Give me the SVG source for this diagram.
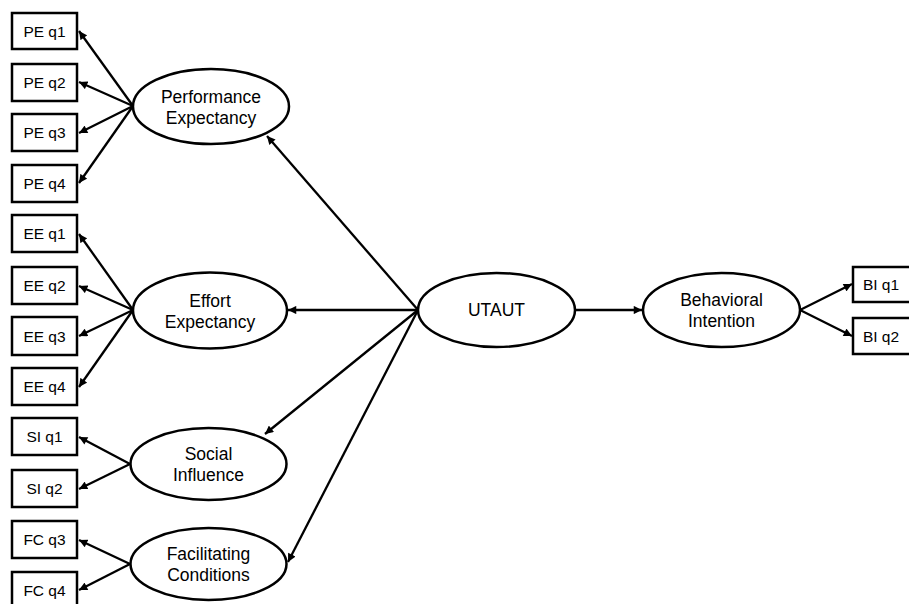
<svg xmlns="http://www.w3.org/2000/svg" width="909" height="604" viewBox="0 0 909 604">
<style>
.box{fill:#fff;stroke:#000;stroke-width:2.5}
.ell{fill:#fff;stroke:#000;stroke-width:2.5}
.t{font-family:"Liberation Sans",Arial,sans-serif;font-size:15.5px;fill:#000;text-anchor:middle}
.tl{font-family:"Liberation Sans",Arial,sans-serif;font-size:17.5px;fill:#000;text-anchor:middle}
.c{stroke:#000;stroke-width:2.3;fill:none;marker-end:url(#ah)}
</style>
<defs>
<marker id="ah" viewBox="0 0 10 10" refX="10" refY="5" markerWidth="4" markerHeight="3.6" orient="auto" markerUnits="strokeWidth">
<path d="M0,0 L10,5 L0,10 z" fill="#000"/>
</marker>
</defs>
<rect width="909" height="604" fill="#fff"/>
<g id="connectors">
<line class="c" x1="133" y1="106" x2="79" y2="31"/>
<line class="c" x1="133" y1="106" x2="79" y2="82"/>
<line class="c" x1="133" y1="106" x2="79" y2="133"/>
<line class="c" x1="133" y1="106" x2="79" y2="183"/>
<line class="c" x1="133" y1="310" x2="79" y2="234"/>
<line class="c" x1="133" y1="310" x2="79" y2="286"/>
<line class="c" x1="133" y1="310" x2="79" y2="336"/>
<line class="c" x1="133" y1="310" x2="79" y2="387"/>
<line class="c" x1="130" y1="464" x2="79" y2="437"/>
<line class="c" x1="130" y1="464" x2="79" y2="489"/>
<line class="c" x1="130" y1="564" x2="79" y2="540"/>
<line class="c" x1="130" y1="564" x2="79" y2="590"/>
<line class="c" x1="418" y1="310" x2="267" y2="136"/>
<line class="c" x1="418" y1="310" x2="288" y2="310"/>
<line class="c" x1="418" y1="310" x2="265" y2="434"/>
<line class="c" x1="418" y1="310" x2="288" y2="562"/>
<line class="c" x1="575" y1="310" x2="642" y2="310"/>
<line class="c" x1="800" y1="310" x2="852" y2="284"/>
<line class="c" x1="800" y1="310" x2="852" y2="336"/>
</g>
<g id="pe_q1"><rect class="box" x="12" y="13" width="65" height="36"/><text class="t" x="44.5" y="36.5">PE q1</text></g>
<g id="pe_q2"><rect class="box" x="12" y="64" width="65" height="37"/><text class="t" x="44.5" y="88">PE q2</text></g>
<g id="pe_q3"><rect class="box" x="12" y="114" width="65" height="37"/><text class="t" x="44.5" y="138">PE q3</text></g>
<g id="pe_q4"><rect class="box" x="12" y="165" width="65" height="37"/><text class="t" x="44.5" y="189">PE q4</text></g>
<g id="ee_q1"><rect class="box" x="12" y="215" width="65" height="37"/><text class="t" x="44.5" y="239">EE q1</text></g>
<g id="ee_q2"><rect class="box" x="12" y="267" width="65" height="37"/><text class="t" x="44.5" y="291">EE q2</text></g>
<g id="ee_q3"><rect class="box" x="12" y="317" width="65" height="38"/><text class="t" x="44.5" y="341.5">EE q3</text></g>
<g id="ee_q4"><rect class="box" x="12" y="368" width="65" height="37"/><text class="t" x="44.5" y="392">EE q4</text></g>
<g id="si_q1"><rect class="box" x="12" y="418" width="65" height="37"/><text class="t" x="44.5" y="442">SI q1</text></g>
<g id="si_q2"><rect class="box" x="12" y="470" width="65" height="37"/><text class="t" x="44.5" y="494">SI q2</text></g>
<g id="fc_q3"><rect class="box" x="12" y="521" width="65" height="37"/><text class="t" x="44.5" y="545">FC q3</text></g>
<g id="fc_q4"><rect class="box" x="12" y="572" width="65" height="37"/><text class="t" x="44.5" y="596">FC q4</text></g>
<g id="bi_q1"><rect class="box" x="853" y="267" width="65" height="35"/><text class="t" x="881" y="290">BI q1</text></g>
<g id="bi_q2"><rect class="box" x="853" y="318" width="65" height="36"/><text class="t" x="881" y="341.5">BI q2</text></g>
<g id="pe"><ellipse class="ell" cx="211" cy="106.5" rx="78" ry="37.5"/><text class="tl" x="211" y="103">Performance</text><text class="tl" x="211" y="124">Expectancy</text></g>
<g id="ee"><ellipse class="ell" cx="210" cy="310.5" rx="77" ry="38"/><text class="tl" x="210" y="307">Effort</text><text class="tl" x="210" y="328">Expectancy</text></g>
<g id="si"><ellipse class="ell" cx="208.5" cy="464" rx="78" ry="36"/><text class="tl" x="208.5" y="460">Social</text><text class="tl" x="208.5" y="481">Influence</text></g>
<g id="fc"><ellipse class="ell" cx="208.5" cy="564" rx="78" ry="36"/><text class="tl" x="208.5" y="560">Facilitating</text><text class="tl" x="208.5" y="581">Conditions</text></g>
<g id="utaut"><ellipse class="ell" cx="496.5" cy="310" rx="78.5" ry="37"/><text class="tl" x="496.5" y="316">UTAUT</text></g>
<g id="bi"><ellipse class="ell" cx="721.5" cy="310" rx="78.5" ry="37"/><text class="tl" x="721.5" y="306">Behavioral</text><text class="tl" x="721.5" y="327">Intention</text></g>
</svg>
